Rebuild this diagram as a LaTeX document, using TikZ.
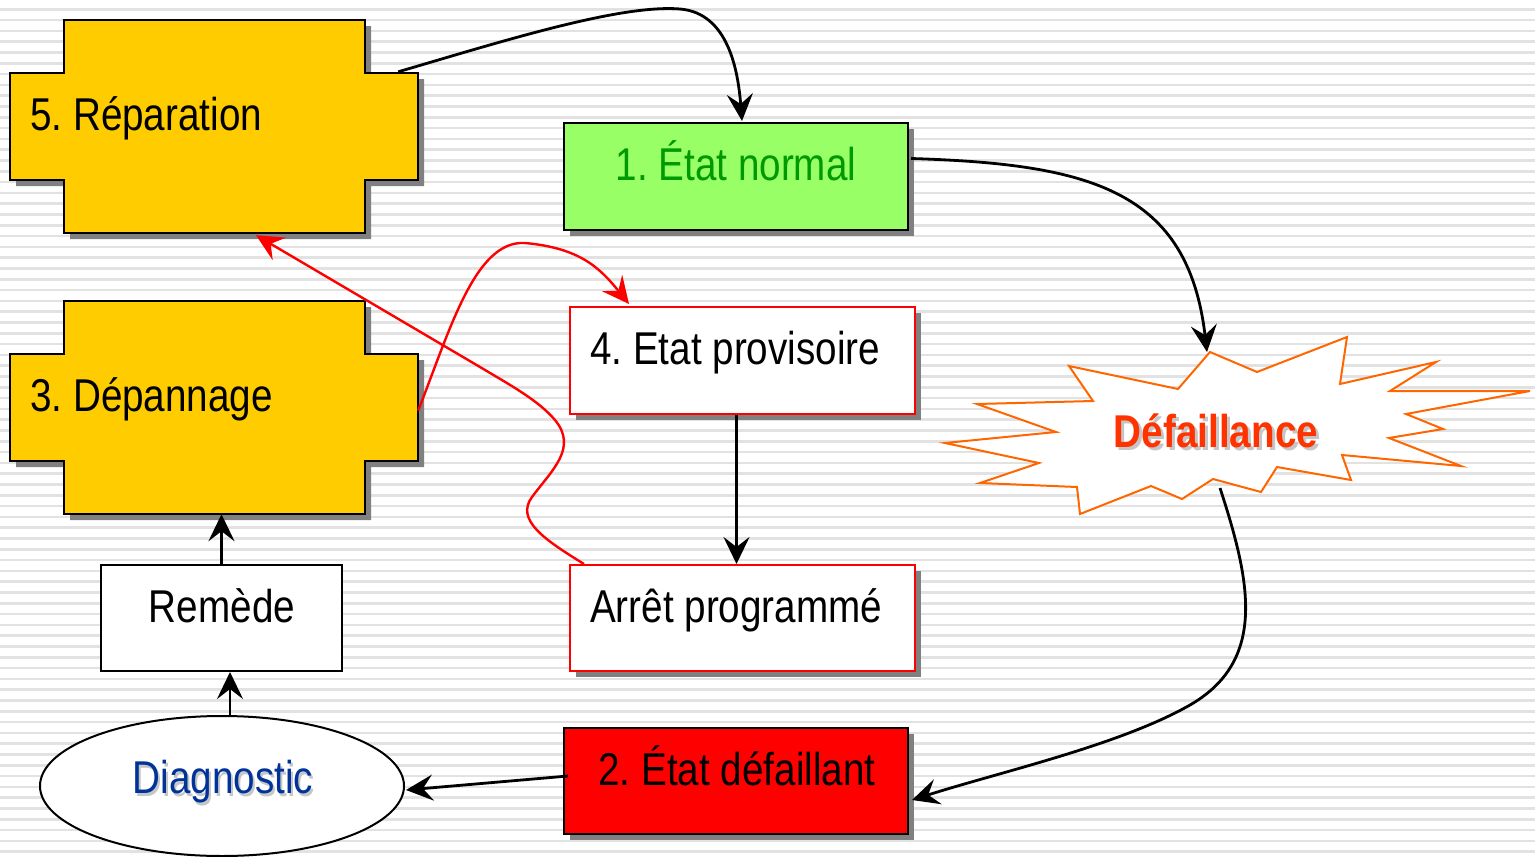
\documentclass[tikz,border=0pt]{standalone}
\usepackage{fontspec}
\setmainfont{Liberation Sans}[FakeStretch=0.84]
\usetikzlibrary{arrows.meta,calc,shapes.geometric,shadows}
\definecolor{gold}{HTML}{FFCC00}
\definecolor{lgreen}{HTML}{99FF66}
\definecolor{dgreen}{HTML}{009900}
\definecolor{dblue}{HTML}{003399}
\definecolor{orng}{HTML}{FF6600}
\definecolor{orred}{HTML}{FF3300}
\definecolor{shad}{HTML}{808080}
\definecolor{stripe}{HTML}{E2E2E2}
\frenchspacing
\begin{document}
\begin{tikzpicture}[x=1pt,y=-1pt,
  txt/.style={font=\fontsize{46}{50}\selectfont, inner sep=0pt},
  shadowed/.style={drop shadow={shadow xshift=6pt,shadow yshift=-6pt,fill=shad,opacity=1}},
  stbox/.style={draw, line width=2pt, inner sep=0pt},
  bigtip/.tip={Stealth[length=27pt,width=26pt,inset=10pt]},
  arr/.style={line width=2.8pt, -bigtip},
  rarr/.style={line width=2.4pt, red, -bigtip}]
\useasboundingbox (0,0) rectangle (1535,857);
\fill[white] (0,0) rectangle (1535,857);
\foreach \i in {0,...,79} \draw[stripe, line width=2.5pt] (0,{9.3+10.8*\i}) -- (1535,{9.3+10.8*\i});

% cross shapes
\foreach \oy in {0,281} {
  \fill[shad] (70,{26+\oy}) -- (371,{26+\oy}) -- (371,{79+\oy}) -- (424,{79+\oy}) -- (424,{186+\oy}) -- (371,{186+\oy}) -- (371,{239+\oy}) -- (70,{239+\oy}) -- (70,{186+\oy}) -- (16,{186+\oy}) -- (16,{79+\oy}) -- (70,{79+\oy}) -- cycle;
  \draw[fill=gold, line width=2pt] (64,{20+\oy}) -- (365,{20+\oy}) -- (365,{73+\oy}) -- (418,{73+\oy}) -- (418,{180+\oy}) -- (365,{180+\oy}) -- (365,{233+\oy}) -- (64,{233+\oy}) -- (64,{180+\oy}) -- (10,{180+\oy}) -- (10,{73+\oy}) -- (64,{73+\oy}) -- cycle;
}
\node[inner sep=0pt, minimum width=408pt, minimum height=213pt] (rep) at (214,126.5) {};
\node[inner sep=0pt, minimum width=408pt, minimum height=213pt] (dep) at (214,407.5) {};
\node[txt, anchor=base west] (rep-t) at (30,130) {5. Réparation};
\node[txt, anchor=base west] (dep-t) at (30,411) {3. Dépannage};

% boxes
\node[stbox, shadowed, fill=lgreen, minimum width=344pt, minimum height=107pt] (norm) at (736,176.5) {};
\node[txt, text=dgreen, anchor=base] (norm-t) at (736,180) {1. État normal};
\node[stbox, shadowed, draw=red, fill=white, minimum width=345pt, minimum height=107pt] (prov) at (742.5,360.5) {};
\node[txt, anchor=base west] (prov-t) at (590,364) {4. Etat provisoire};
\node[stbox, shadowed, draw=red, fill=white, minimum width=345pt, minimum height=106pt] (arret) at (742.5,618) {};
\node[txt, anchor=base west] (arret-t) at (590,622) {Arrêt programmé};
\node[stbox, shadowed, fill=red, minimum width=344pt, minimum height=106pt] (defl) at (736,781) {};
\node[txt, anchor=base] (defl-t) at (737,785) {2. État défaillant};
\node[stbox, fill=white, minimum width=241pt, minimum height=106pt] (rem) at (221.5,618) {};
\node[txt, anchor=base] (rem-t) at (222,622) {Remède};
\node[ellipse, draw, line width=2pt, fill=white, minimum width=364pt, minimum height=140pt] (diag) at (222,786) {};
\node[txt, text=gray!45, anchor=base] at (225,796) {Diagnostic};
\node[txt, text=dblue, anchor=base] (diag-t) at (223,793) {Diagnostic};

% starburst
\draw[orng, line width=2pt, fill=white, line join=miter]
  (1210,352) -- (1257,372) -- (1347,337) -- (1340,384) -- (1436,362) -- (1390,391) -- (1530,391) -- (1406,414) -- (1443,429) -- (1389,438) -- (1461,466) -- (1342,455) -- (1351,480) -- (1277,467) -- (1261,492) -- (1213,479) -- (1182,499) -- (1151,486) -- (1080,514) -- (1077,487) -- (980,483) -- (1039,463) -- (945,443) -- (1056,432) -- (977,404) -- (1093,401) -- (1069,366) -- (1178,389) -- cycle;
\node[txt, font=\fontsize{46}{50}\selectfont\bfseries, text=gray!45, anchor=base] at (1219,450) {Défaillance};
\node[txt, font=\fontsize{46}{50}\selectfont\bfseries, text=orred, anchor=base] (boom) at (1216,447) {Défaillance};
\coordinate (boom-top) at (1207,352);
\coordinate (boom-bot) at (1220,488);

% black connectors
\draw[arr] ($(rep.north east)+(-20,52)$) .. controls (500,42) and (620,4) .. (680,9) .. controls (728,13) and (738,70) .. ($(norm.north)+(6,-1)$);
\draw[arr] ($(norm.east)+(2,-18)$) .. controls (1090,164) and (1188,190) .. (boom-top);
\draw[arr] (boom-bot) .. controls (1250,580) and (1268,660) .. (1190,705) .. controls (1120,745) and (1000,772) .. ($(defl.east)+(3,19)$);
\draw[arr] ($(defl.west)+(5,-5)$) -- ($(diag.east)+(1,4)$);
\draw[arr] ($(diag.north)+(8,0)$) -- ($(rem.south)+(8.5,0)$);
\draw[arr] (rem.north) -- (rem.north |- dep.south);
\draw[arr] ($(prov.south)+(-6,0)$) -- ($(arret.north)+(-6,0)$);

% red connectors
\draw[rarr] ($(dep.east)+(0,3)$) .. controls (450,330) and (475,240) .. (525,243) .. controls (580,248) and (600,268) .. ($(prov.north west)+(60,-2)$);
\draw[rarr] ($(arret.north west)+(15,0)$) .. controls (545,540) and (515,520) .. (532,497) .. controls (552,470) and (578,448) .. (555,420) .. controls (538,400) and (510,385) .. (480,367) -- ($(rep.south)+(42,2)$);
\end{tikzpicture}
\end{document}
